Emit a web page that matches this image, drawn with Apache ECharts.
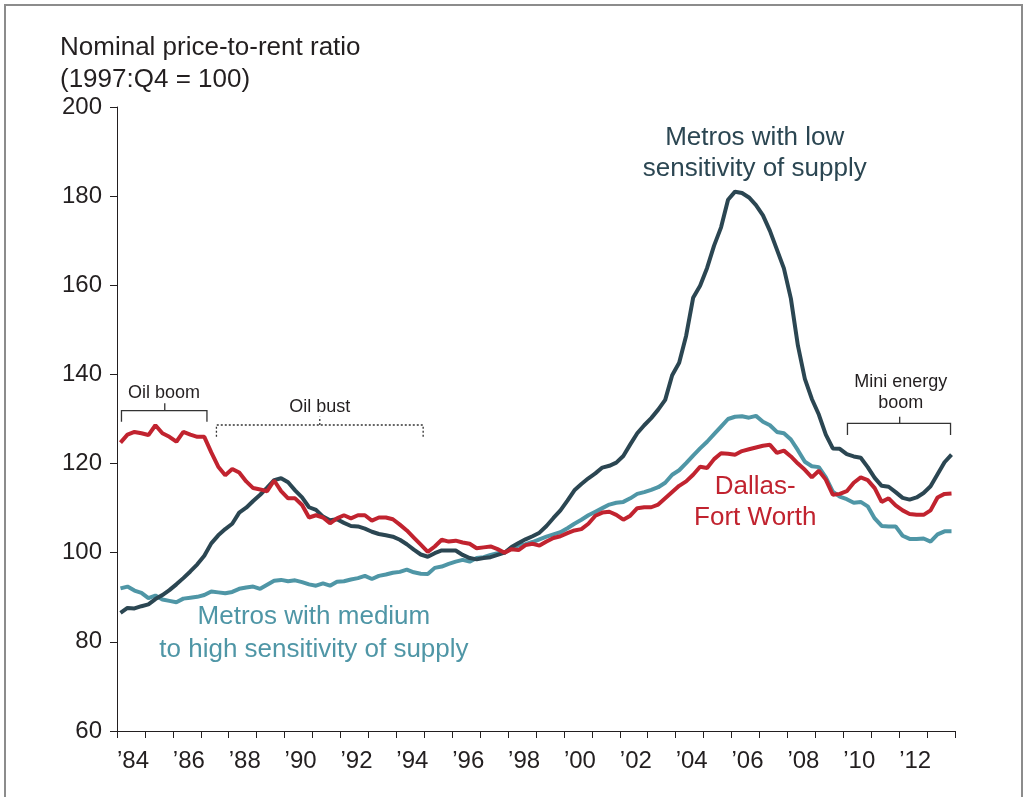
<!DOCTYPE html>
<html>
<head>
<meta charset="utf-8">
<script src="https://cdn.jsdelivr.net/npm/echarts@6/dist/echarts.min.js"></script>
<style>
  html, body { margin: 0; padding: 0; background: #fff; }
  #main { width: 1029px; height: 797px; }
</style>
</head>
<body>
<div id="main"></div>
<script>
"use strict"
// quarterly series, 1984:Q1 .. 2013:Q4 (1997:Q4 = 100)
var firstYear = 1984;

var lowSupply = [
	86.5, 87.6, 87.5, 88.0,   88.4, 89.6, 90.5, 91.6,   92.9, 94.3, 95.8, 97.4,
	99.3, 102.1, 103.9, 105.3, 106.5, 109.0, 110.1, 111.6, 113.0, 114.6, 116.3, 116.7,
	115.8, 114.0, 112.4, 110.2, 109.6, 108.1, 107.3, 107.5, 106.7, 106.0, 105.9, 105.4,
	104.7, 104.2, 103.9, 103.6, 102.9, 101.9, 100.7, 99.6,  99.1, 99.9, 100.5, 100.5,
	100.5, 99.5, 98.8, 98.5,  98.8, 99.0, 99.5, 100.0,  101.3, 102.2, 103.0, 103.7,
	104.5, 106.0, 107.8, 109.5, 111.7, 114.0, 115.4, 116.7, 117.8, 119.1, 119.5, 120.2,
	121.7, 124.3, 126.8, 128.6, 130.2, 132.1, 134.3, 139.8, 142.6, 148.7, 157.2, 159.9,
	163.9, 168.9, 173.0, 179.2, 181.0, 180.7, 179.7, 178.0, 175.7, 172.2, 168.0, 163.8,
	157.0, 146.5, 139.0, 134.5, 131.0, 126.5, 123.4, 123.3, 122.1, 121.6, 121.3, 119.2,
	116.8, 115.0, 114.8, 113.6, 112.3, 111.9, 112.4, 113.4, 114.9, 117.6, 120.3, 122.0
];

var medHighSupply = [
	92.0, 92.4, 91.5, 91.0,   89.8, 90.4, 89.5, 89.2,   88.9, 89.7, 89.9, 90.1,
	90.5, 91.3, 91.1, 90.9,   91.2, 91.9, 92.2, 92.4,   91.9, 92.8, 93.7, 93.9,
	93.6, 93.8, 93.4, 92.9,   92.6, 93.1, 92.6, 93.5,   93.6, 94.0, 94.3, 94.8,
	94.1, 94.8, 95.1, 95.5,   95.7, 96.2, 95.6, 95.3,   95.2, 96.6, 96.9, 97.5,
	98.0, 98.4, 98.0, 98.8,   99.0, 99.5, 99.9, 100.0,  101.1, 101.6, 101.9, 102.4,
	103.0, 103.6, 104.1, 104.6, 105.5, 106.5, 107.4, 108.4, 109.2, 110.0, 110.8, 111.2,
	111.4, 112.2, 113.2, 113.6, 114.1, 114.7, 115.7, 117.5, 118.5, 120.1, 121.8, 123.4,
	124.9, 126.6, 128.3, 130.0, 130.5, 130.6, 130.3, 130.7, 129.4, 128.6, 127.1, 126.8,
	125.4, 123.0, 120.4, 119.4, 119.2, 116.9, 113.7, 112.6, 112.0, 111.2, 111.4, 110.4,
	107.7, 106.0, 105.9, 105.9, 103.8, 103.1, 103.1, 103.2, 102.5, 104.1, 104.8, 104.8
];

var dallasFW = [
	124.7, 126.5, 127.1, 126.8, 126.4, 128.6, 126.8, 126.0, 124.9, 127.1, 126.5, 126.0,
	126.0, 122.5, 119.3, 117.4, 118.8, 118.0, 116.0, 114.5, 114.2, 113.8, 116.2, 113.8,
	112.2, 112.2, 110.7, 107.9, 108.4, 107.9, 106.6, 107.7, 108.4, 107.7, 108.4, 108.4,
	107.2, 107.9, 107.9, 107.5, 106.3, 105.0, 103.4, 101.8, 100.2, 101.4, 102.9, 102.5,
	102.7, 102.3, 102.0, 101.0, 101.2, 101.4, 100.8, 100.0, 100.8, 100.6, 101.7, 102.0,
	101.6, 102.5, 103.3, 103.7, 104.4, 105.0, 105.3, 106.5, 108.3, 109.0, 109.2, 108.5,
	107.4, 108.3, 110.0, 110.2, 110.2, 110.8, 112.2, 113.6, 115.0, 116.0, 117.5, 119.3,
	119.0, 121.0, 122.3, 122.2, 122.0, 122.8, 123.2, 123.6, 124.0, 124.2, 122.4, 122.9,
	121.6, 120.0, 118.6, 116.9, 118.4, 116.4, 113.0, 113.2, 113.8, 115.7, 116.9, 116.3,
	114.5, 111.4, 112.2, 110.6, 109.5, 108.7, 108.5, 108.5, 109.5, 112.4, 113.2, 113.3
];

var colDark = '#2b4652';
var colTeal = '#4f96a6';
var colRed = '#c1232f';
var axisCol = '#231f20';
var fontFam = '"Liberation Sans", Arial, sans-serif';

// place each quarter at the middle of its span on the year axis
function toPoints(values) {
	return values.map(function (v, i) {
		return [firstYear + (i + 0.5) / 4, v];
	});
}

var myChart = echarts.init(document.getElementById('main'));

var option = {
	animation: false,
	backgroundColor: '#fff',
	title: {
		text: 'Nominal price-to-rent ratio\n(1997:Q4 = 100)',
		left: 55,
		top: 27,
		textStyle: { fontFamily: fontFam, fontSize: 26, fontWeight: 'normal', color: axisCol, lineHeight: 32 }
	},
	grid: { left: 117, right: 74, top: 107, bottom: 66, containLabel: false },
	xAxis: {
		type: 'value',
		min: 1984,
		max: 2014,
		interval: 1,
		axisLine: { show: true, lineStyle: { color: axisCol, width: 1 } },
		axisTick: { show: true, length: 7, lineStyle: { color: axisCol } },
		splitLine: { show: false },
		axisLabel: {
			margin: 18,
			align: 'left',
			fontFamily: fontFam,
			fontSize: 24,
			color: axisCol,
			formatter: function (v) {
				if (v % 2 !== 0 || v >= 2014) return '';
				return '\u2019' + String(v).slice(2);
			}
		}
	},
	yAxis: {
		type: 'value',
		min: 60,
		max: 200,
		interval: 20,
		axisLine: { show: true, lineStyle: { color: axisCol, width: 1 } },
		axisTick: { show: true, length: 7, lineStyle: { color: axisCol } },
		splitLine: { show: false },
		axisLabel: { margin: 15, fontFamily: fontFam, fontSize: 24, color: axisCol }
	},
	series: [
		{ name: 'Medium to high', type: 'line', data: toPoints(medHighSupply), symbol: 'none', lineStyle: { color: colTeal, width: 4 }, z: 2 },
		{ name: 'Low', type: 'line', data: toPoints(lowSupply), symbol: 'none', lineStyle: { color: colDark, width: 4 }, z: 3 },
		{ name: 'Dallas-Fort Worth', type: 'line', data: toPoints(dallasFW), symbol: 'none', lineStyle: { color: colRed, width: 4 }, z: 4 }
	]
};

myChart.setOption(option, true);

// annotations, in axis units (year, ratio)
var brackets = [
	{ from: 1984.16, to: 1987.22, mid: 1985.71, y: 131.86, foot: 129.39, head: 133.52, dashed: false },
	{ from: 1987.56, to: 1994.96, mid: 1991.26, y: 128.65, foot: 126.03, head: 130.51, dashed: true },
	{ from: 2010.15, to: 2013.84, mid: 2012.02, y: 129.03, foot: 126.41, head: 130.51, dashed: false }
];
var notes = [
	{ text: 'Oil boom', at: [1985.68, 135.76], size: 18, color: axisCol, lh: 21 },
	{ text: 'Oil bust', at: [1991.26, 132.62], size: 18, color: axisCol, lh: 21 },
	{ text: 'Mini energy\nboom', at: [2012.06, 136.0], size: 18, color: axisCol, lh: 21 },
	{ text: 'Metros with low\nsensitivity of supply', at: [2006.83, 189.57], size: 26, color: colDark, lh: 31 },
	{ text: 'Metros with medium\nto high sensitivity of supply', at: [1991.05, 81.87], size: 26, color: colTeal, lh: 33 },
	{ text: 'Dallas-\nFort Worth', at: [2006.85, 111.26], size: 26, color: colRed, lh: 31 }
];

function px(t, v) {
	return myChart.convertToPixel({ seriesIndex: 0 }, [t, v]);
}

var graphics = [{
	type: 'rect',
	shape: { x: 5, y: 5, width: 1017, height: 840 },
	style: { fill: 'none', stroke: '#8c8c8c', lineWidth: 2 },
	silent: true
}];

brackets.forEach(function (b) {
	var dash = b.dashed ? [2, 2] : null;
	graphics.push({
		type: 'polyline',
		shape: { points: [px(b.from, b.foot), px(b.from, b.y), px(b.to, b.y), px(b.to, b.foot)] },
		style: { fill: 'none', stroke: '#333', lineWidth: 1.3, lineDash: dash },
		silent: true
	});
	graphics.push({
		type: 'polyline',
		shape: { points: [px(b.mid, b.y), px(b.mid, b.head)] },
		style: { fill: 'none', stroke: '#333', lineWidth: 1.3, lineDash: dash },
		silent: true
	});
});

notes.forEach(function (n) {
	var p = px(n.at[0], n.at[1]);
	graphics.push({
		type: 'text',
		x: p[0],
		y: p[1],
		style: {
			text: n.text,
			fill: n.color,
			font: n.size + 'px ' + fontFam,
			lineHeight: n.lh,
			align: 'center',
			verticalAlign: 'middle'
		},
		silent: true
	});
});

myChart.setOption({ graphic: graphics });
</script>
</body>
</html>
